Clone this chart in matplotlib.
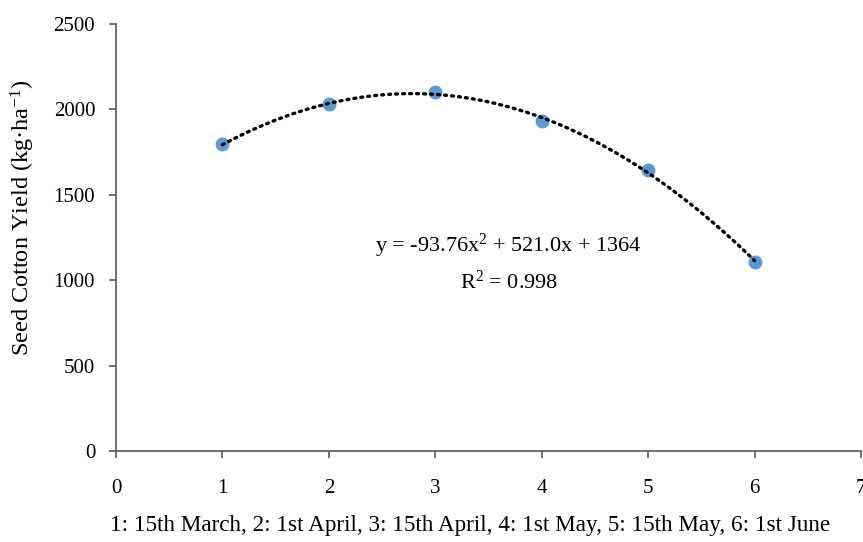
import numpy as np
import matplotlib.pyplot as plt

plt.rcParams["font.family"] = ["Liberation Serif", "DejaVu Serif"]
plt.rcParams["mathtext.fontset"] = "custom"
plt.rcParams["mathtext.rm"] = "Liberation Serif"
plt.rcParams["mathtext.it"] = "Liberation Serif:italic"

# sowing dates (1..6) and seed cotton yield
sowing = [1, 2, 3, 4, 5, 6]
yield_kg = [1795, 2029, 2101, 1930, 1648, 1108]

x_ticks = [0, 1, 2, 3, 4, 5, 6, 7]
y_ticks = [0, 500, 1000, 1500, 2000, 2500]

fig = plt.figure(figsize=(8.63, 5.42), dpi=100)
ax = fig.add_axes([0.1344, 0.1679, 0.8633, 0.7878])

# polynomial trend line (order 2)
coef = np.polyfit(sowing, yield_kg, 2)
xs = np.linspace(min(sowing), max(sowing), 200)
ax.plot(xs, np.polyval(coef, xs), color="black", linestyle=(0, (0.6, 1.5)),
        linewidth=2.4, dash_capstyle="round", zorder=3)
ax.plot(sowing, yield_kg, "o", color="#5B9BD5", markersize=9, zorder=2)

ax.set_xlim(0, 7)
ax.set_ylim(0, 2500)
ax.set_xticks(x_ticks)
ax.set_yticks(y_ticks)
ax.tick_params(labelsize=15, length=5, color="#595959", width=1.2)
ax.tick_params(axis="x", pad=15)
ax.tick_params(axis="y", pad=10)
for s in ["top", "right"]:
    ax.spines[s].set_visible(False)
for s in ["left", "bottom"]:
    ax.spines[s].set_color("#595959")
    ax.spines[s].set_linewidth(1.2)

fig.text(0.027, 0.598, "Seed Cotton Yield (kg·ha$^{-1}$)", rotation=90,
         ha="center", va="center", fontsize=17.5)
fig.text(0.545, 0.031, "1: 15th March, 2: 1st April, 3: 15th April, 4: 1st May, 5: 15th May, 6: 1st June",
         ha="center", va="center", fontsize=16.7)

ax.text(3.69, 1200, "y = -93.76x$^2$ + 521.0x + 1364", ha="center", va="center", fontsize=16)
ax.text(3.69, 990, "R$^2$ = 0.998", ha="center", va="center", fontsize=16)

fig.savefig("out.png", dpi=100)
